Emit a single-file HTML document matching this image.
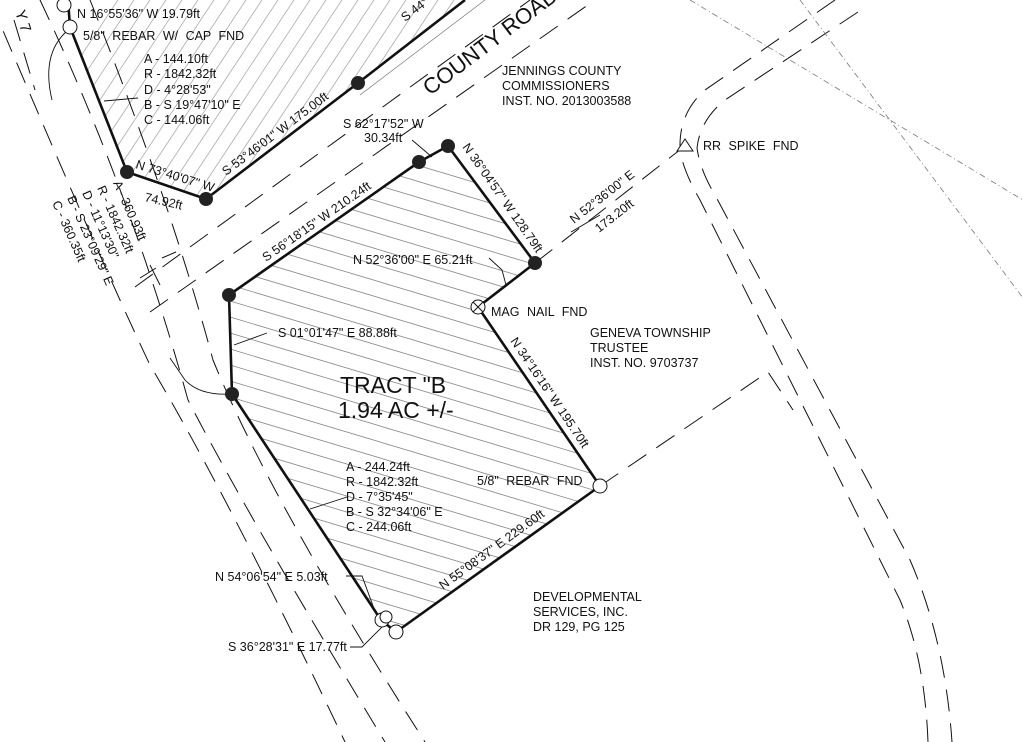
<!DOCTYPE html>
<html><head><meta charset="utf-8"><style>
html,body{margin:0;padding:0;background:#fff;}
svg{display:block;}
text{font-family:"Liberation Sans",sans-serif;fill:#111;font-size:12.5px;}
.w{word-spacing:4px;}
</style></head><body>
<svg width="1023" height="742" viewBox="0 0 1023 742" xmlns="http://www.w3.org/2000/svg">
<defs>
<clipPath id="cA"><polygon points="68,0 70,27 127,172 206,199 358,83 465,0"/></clipPath>
<clipPath id="cB"><polygon points="229,295 419,162 448,146 535,263 478,307 600,486 396,632 381,620 232,394"/></clipPath>
</defs>
<rect width="1023" height="742" fill="#fff"/>

<g clip-path="url(#cA)" stroke="#aaa" stroke-width="0.8">
<g id="ha"><line x1="-100" y1="330" x2="250" y2="-200"/></g>
<use href="#ha" x="16"/><use href="#ha" x="32"/><use href="#ha" x="48"/><use href="#ha" x="64"/><use href="#ha" x="80"/><use href="#ha" x="96"/><use href="#ha" x="112"/><use href="#ha" x="128"/><use href="#ha" x="144"/><use href="#ha" x="160"/><use href="#ha" x="176"/><use href="#ha" x="192"/><use href="#ha" x="208"/><use href="#ha" x="224"/><use href="#ha" x="240"/><use href="#ha" x="256"/><use href="#ha" x="272"/><use href="#ha" x="288"/><use href="#ha" x="304"/><use href="#ha" x="320"/><use href="#ha" x="336"/><use href="#ha" x="352"/><use href="#ha" x="368"/><use href="#ha" x="384"/><use href="#ha" x="400"/><use href="#ha" x="416"/><use href="#ha" x="432"/><use href="#ha" x="448"/>
</g>
<g clip-path="url(#cB)" stroke="#888" stroke-width="0.8">
<g id="hb"><line x1="200" y1="100" x2="650" y2="235"/></g>
<use href="#hb" y="16"/><use href="#hb" y="32"/><use href="#hb" y="48"/><use href="#hb" y="64"/><use href="#hb" y="80"/><use href="#hb" y="96"/><use href="#hb" y="112"/><use href="#hb" y="128"/><use href="#hb" y="144"/><use href="#hb" y="160"/><use href="#hb" y="176"/><use href="#hb" y="192"/><use href="#hb" y="208"/><use href="#hb" y="224"/><use href="#hb" y="240"/><use href="#hb" y="256"/><use href="#hb" y="272"/><use href="#hb" y="288"/><use href="#hb" y="304"/><use href="#hb" y="320"/><use href="#hb" y="336"/><use href="#hb" y="352"/><use href="#hb" y="368"/><use href="#hb" y="384"/><use href="#hb" y="400"/><use href="#hb" y="416"/><use href="#hb" y="432"/><use href="#hb" y="448"/><use href="#hb" y="464"/><use href="#hb" y="480"/><use href="#hb" y="496"/><use href="#hb" y="512"/><use href="#hb" y="528"/><use href="#hb" y="544"/>
</g>

<g stroke="#111" stroke-width="1" fill="none" stroke-dasharray="22,12">
<path d="M-10,0 Q100,260 150,365 Q230,500 345,742"/>
<path d="M40,0 Q130,190 188,400 Q250,520 385,742"/>
<path d="M90,0 Q170,200 213,360 Q270,500 425,742"/>
<line x1="14" y1="20" x2="35" y2="90"/>
<line x1="135" y1="287" x2="530" y2="0"/>
<line x1="150" y1="312" x2="595" y2="0"/>
<line x1="535" y1="263" x2="690" y2="142"/>
<path d="M835,0 L705,90 Q680,112 680,145 Q680,165 700,200 L900,600 Q925,660 928,742"/>
<path d="M858,12 L725,100 Q700,120 697,148 Q700,170 715,195 L910,560 Q945,640 952,742"/>
<polyline points="600,486 768,372 793,410"/>
</g>
<line x1="360" y1="95" x2="485" y2="0" stroke="#666" stroke-width="0.6"/>
<g stroke="#111" stroke-width="1">
<line x1="150" y1="265" x2="160" y2="285"/><line x1="140" y1="278" x2="156" y2="268"/>
<line x1="162" y1="258" x2="176" y2="252"/>
<line x1="571" y1="232" x2="600" y2="215"/>
</g>
<g stroke="#777" stroke-width="0.8" stroke-dasharray="6,3,1,3" fill="none">
<line x1="690" y1="0" x2="1023" y2="200"/>
<line x1="800" y1="0" x2="1023" y2="298"/>
</g>

<g stroke="#111" stroke-width="2.6" fill="none" stroke-linejoin="round">
<polyline points="68,0 70,27 127,172 206,199 358,83 465,0"/>
<polygon points="229,295 419,162 448,146 535,263 478,307 600,486 396,632 381,620 232,394"/>
</g>
<g stroke="#111" stroke-width="0.9" fill="none">
<path d="M72,27 Q40,50 52,100"/>
<path d="M138,98 L104,101"/>
<path d="M267,333 L234,345"/>
<path d="M232,394 Q200,396 185,380 L170,358"/>
<path d="M310,509 L347,497"/>
<path d="M489,258 L502,270 L506,285"/>
<path d="M412,140 L432,157"/>
<path d="M346,576 L362,576 L376,614"/>
<path d="M350,647 L362,647 L384,625"/>
</g>
<g fill="#222">
<circle cx="127" cy="172" r="7"/><circle cx="206" cy="199" r="7"/><circle cx="358" cy="83" r="7"/>
<circle cx="229" cy="295" r="7"/><circle cx="419" cy="162" r="7"/><circle cx="448" cy="146" r="7"/>
<circle cx="535" cy="263" r="7"/><circle cx="232" cy="394" r="7"/>
</g>
<g stroke="#111" stroke-width="1" fill="#fff">
<circle cx="64" cy="5" r="7"/><circle cx="70" cy="27" r="7"/>
<circle cx="478" cy="307" r="7"/><path d="M473,302 L483,312 M483,302 L473,312"/>
<circle cx="600" cy="486" r="7"/>
<circle cx="382" cy="620" r="7"/><circle cx="386" cy="617" r="6"/><circle cx="396" cy="632" r="7"/>
<path d="M685,139 L677,151 L693,151 Z"/>
</g>

<text x="77" y="18">N 16°55'36" W  19.79ft</text>
<text x="83" y="40" class="w">5/8" REBAR W/ CAP FND</text>
<text x="144" y="63">A - 144.10ft</text>
<text x="144" y="78">R - 1842.32ft</text>
<text x="144" y="94">D - 4°28'53"</text>
<text x="144" y="109">B - S 19°47'10" E</text>
<text x="144" y="124">C - 144.06ft</text>
<text transform="translate(135,168) rotate(17)">N 73°40'07" W</text>
<text transform="translate(144,201) rotate(13)">74.92ft</text>
<text transform="translate(226,176) rotate(-37)">S 53°46'01" W  175.00ft</text>
<text transform="translate(405,22) rotate(-37)">S 44°</text>
<text transform="translate(430,96) rotate(-37)" style="font-size:22px">COUNTY ROAD</text>
<text transform="translate(15,12) rotate(72)" style="font-size:15px">Y 7</text>
<text transform="translate(113,183) rotate(66)">A - 360.93ft</text>
<text transform="translate(97,188) rotate(66)">R - 1842.32ft</text>
<text transform="translate(82,193) rotate(66)">D - 11°13'30"</text>
<text transform="translate(67,198) rotate(66)">B - S 23°09'29" E</text>
<text transform="translate(52,203) rotate(66)">C - 360.35ft</text>
<text x="502" y="75">JENNINGS COUNTY</text>
<text x="502" y="90">COMMISSIONERS</text>
<text x="502" y="105">INST. NO. 2013003588</text>
<text x="343" y="128">S 62°17'52" W</text>
<text x="364" y="142">30.34ft</text>
<text transform="translate(462,147) rotate(55)">N 36°04'57" W  128.79ft</text>
<text transform="translate(266,262) rotate(-35)">S 56°18'15" W  210.24ft</text>
<text x="353" y="264">N 52°36'00" E  65.21ft</text>
<text transform="translate(574,224) rotate(-38)">N 52°36'00" E</text>
<text transform="translate(599,233) rotate(-38)">173.20ft</text>
<text x="703" y="150" class="w">RR SPIKE FND</text>
<text x="491" y="316" class="w">MAG NAIL FND</text>
<text x="590" y="337">GENEVA TOWNSHIP</text>
<text x="590" y="352">TRUSTEE</text>
<text x="590" y="367">INST. NO. 9703737</text>
<text x="278" y="337">S 01°01'47" E  88.88ft</text>
<text x="340" y="393" style="font-size:23px">TRACT "B</text>
<text x="338" y="418" style="font-size:23px">1.94 AC +/-</text>
<text transform="translate(510,341) rotate(56)">N 34°16'16" W  195.70ft</text>
<text x="346" y="471">A - 244.24ft</text>
<text x="346" y="486">R - 1842.32ft</text>
<text x="346" y="501">D - 7°35'45"</text>
<text x="346" y="516">B - S 32°34'06" E</text>
<text x="346" y="531">C - 244.06ft</text>
<text x="477" y="485" class="w">5/8" REBAR FND</text>
<text transform="translate(443,590) rotate(-36)">N 55°08'37" E  229.60ft</text>
<text x="215" y="581">N 54°06'54" E  5.03ft</text>
<text x="228" y="651">S 36°28'31" E  17.77ft</text>
<text x="533" y="601">DEVELOPMENTAL</text>
<text x="533" y="616">SERVICES, INC.</text>
<text x="533" y="631">DR 129, PG 125</text>
</svg>
</body></html>
